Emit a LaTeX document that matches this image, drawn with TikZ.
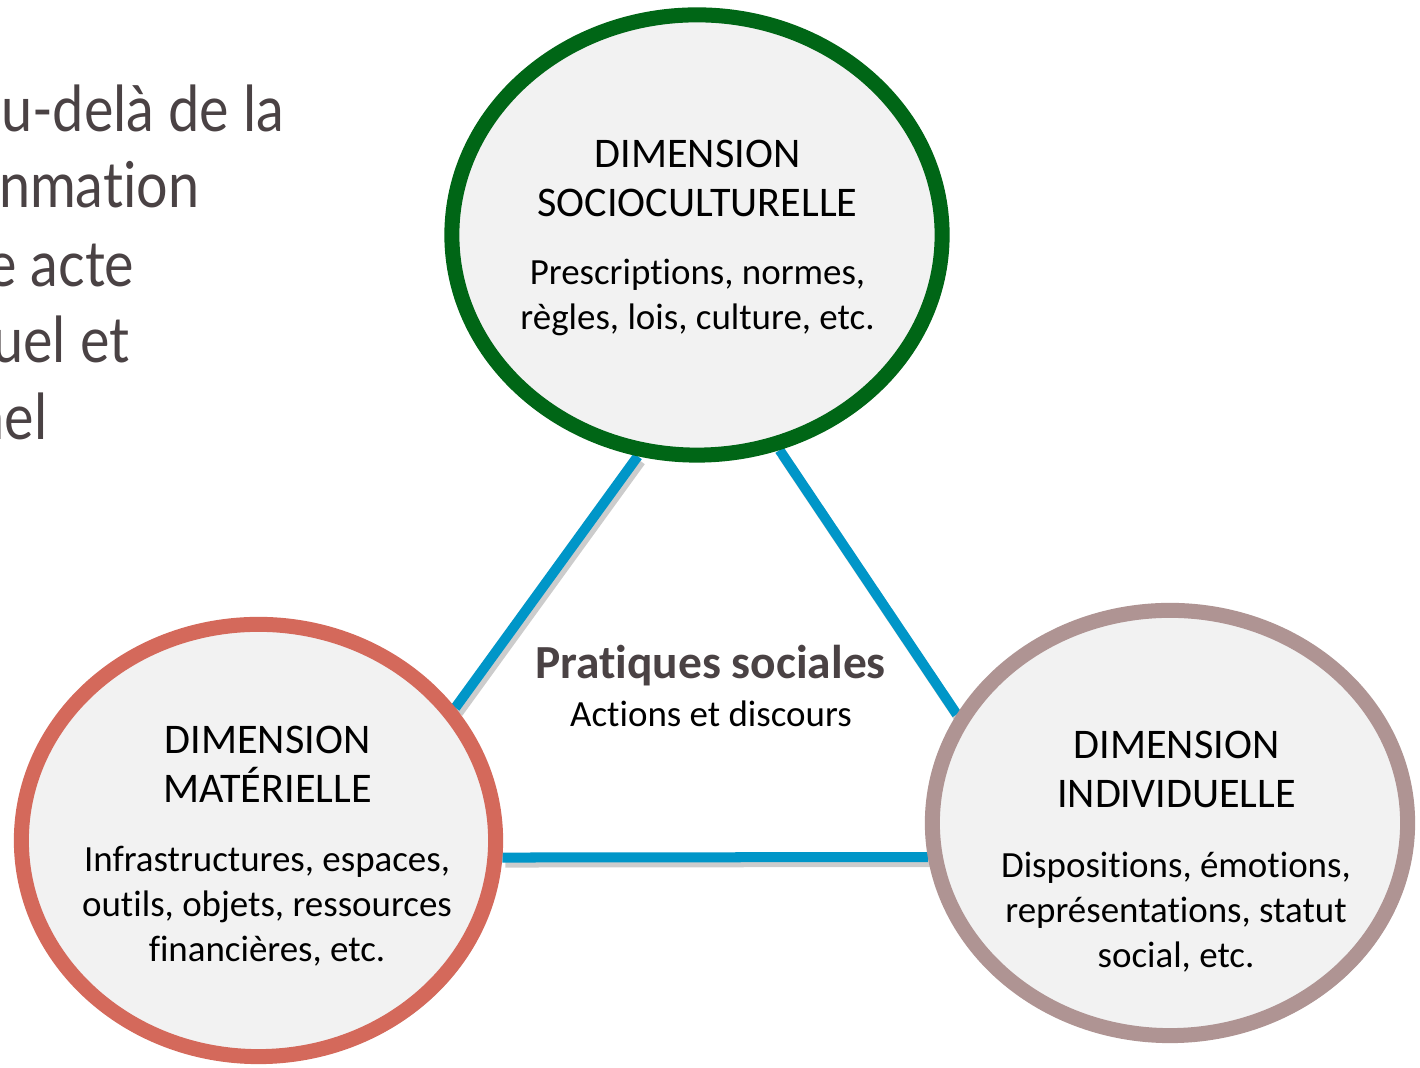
\documentclass[tikz,border=0pt]{standalone}
\usepackage{fontspec}
\setmainfont{Carlito}[Ligatures=NoCommon]
\newfontfamily\leadfont{Lato}[FakeStretch=0.88, Ligatures=NoCommon]
\usetikzlibrary{shapes.geometric,shadows,backgrounds}

\definecolor{socgreen}{HTML}{006616}
\definecolor{matred}{HTML}{D4695B}
\definecolor{indmauve}{HTML}{AF9493}
\definecolor{linkblue}{HTML}{0096C8}
\definecolor{dimfill}{HTML}{F2F2F2}
\definecolor{leadgray}{HTML}{4A4244}

\tikzset{
  dimcircle/.style={ellipse, draw=#1, line width=0.15cm, fill=dimfill, inner sep=0pt,
    drop shadow={shadow xshift=1.5pt, shadow yshift=-1.5pt, opacity=0.25, fill=black}},
  dimtitle/.style={align=center, font=\fontsize{12}{14.2}\selectfont, inner sep=0pt, anchor=base},
  dimbody/.style={align=center, font=\fontsize{10.5}{12.8}\selectfont, inner sep=0pt, anchor=base},
  link/.style={draw=linkblue, line width=0.1cm},
  linkshadow/.style={draw=black, opacity=0.2, line width=0.1cm},
  leadline/.style={anchor=base east, inner sep=0pt, text=leadgray,
    font=\leadfont\fontsize{18}{18}\selectfont},
}

\begin{document}
\begin{tikzpicture}[x=0.01cm, y=-0.01cm]
  \useasboundingbox (0,0) rectangle (1420,1068);
  \clip (0,0) rectangle (1420,1068);

  % lead text, cut off at the left edge
  \node[leadline] (lead1) at (285,132) {u-delà de la};
  \node[leadline] (lead2) at (200,208) {nmation};
  \node[leadline] (lead3) at (135,287) {e acte};
  \node[leadline] (lead4) at (130,363) {uel et};
  \node[leadline] (lead5) at (48,440) {nel};

  % the three dimensions
  \node[dimcircle=socgreen, minimum width=4.90cm, minimum height=4.40cm] (soc) at (697,235) {};
  \node[dimcircle=matred, minimum width=4.74cm, minimum height=4.32cm] (mat) at (258.5,840.5) {};
  \node[dimcircle=indmauve, minimum width=4.75cm, minimum height=4.25cm] (ind) at (1170,823) {};

  % triangle behind the circles
  \begin{pgfonlayer}{background}
    \fill[white] (0,0) rectangle (1420,1068);
    \foreach \a/\b in {soc.255/mat.34, soc.291/ind.153, mat.-4/ind.188} {
      \draw[linkshadow] ([shift={(3,5)}]\a) -- ([shift={(3,5)}]\b);
      \draw[link] (\a) -- (\b);
    }
  \end{pgfonlayer}

  % base anchor = baseline of the last line
  \node[dimtitle] (soctitle) at (697.5,217) {DIMENSION\\SOCIOCULTURELLE};
  \node[dimbody] (socbody) at (697.5,330) {Prescriptions, normes,\\règles, lois, culture, etc.};

  \node[dimtitle] (mattitle) at (267.5,803) {DIMENSION\\MATÉRIELLE};
  \node[dimbody] (matbody) at (267,962) {Infrastructures, espaces,\\outils, objets, ressources\\financières, etc.};

  \node[dimtitle] (indtitle) at (1176.5,808) {DIMENSION\\INDIVIDUELLE};
  \node[dimbody] (indbody) at (1176,968) {Dispositions, émotions,\\représentations, statut\\social, etc.};

  % centre of the triangle
  \node[anchor=base, inner sep=0pt, text=leadgray, font=\bfseries\fontsize{13.5}{16}\selectfont] (prat) at (710.5,679) {Pratiques sociales};
  \node[dimbody] (act) at (711,727) {Actions et discours};
\end{tikzpicture}
\end{document}
